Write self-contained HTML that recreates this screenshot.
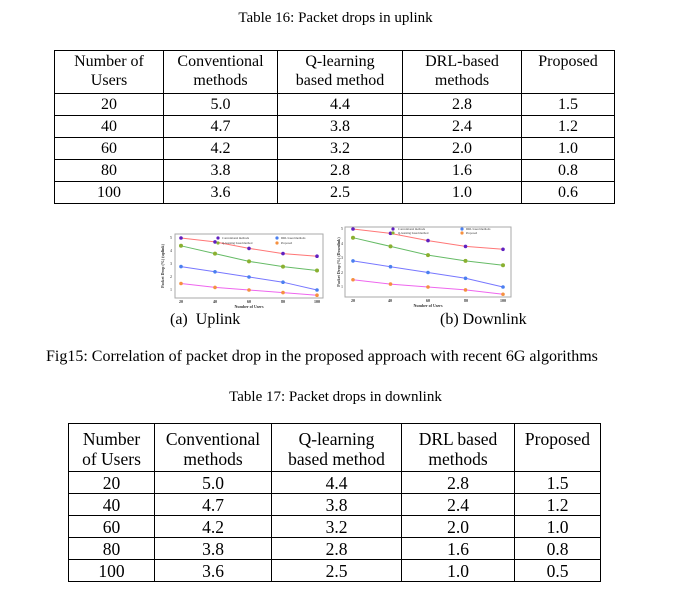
<!DOCTYPE html>
<html><head><meta charset="utf-8"><style>
body{margin:0;width:691px;height:595px;background:#fff;position:relative;overflow:hidden;font-family:"Liberation Serif",serif;color:#000}
.t{position:absolute;white-space:nowrap}
table{position:absolute;border-collapse:collapse;table-layout:fixed}
td{border:1px solid #000;text-align:center;padding:0;line-height:19px;vertical-align:middle}
#t1 td{font-size:16px;height:21px}
#t2 td{font-size:17.5px;height:21px;line-height:20px}
</style></head><body>
<div class="t" style="left:0;width:671px;text-align:center;top:10px;font-size:15px">Table 16: Packet drops in uplink</div>
<table id="t1" style="left:54px;top:50px;width:560px">
<colgroup><col style="width:109px"><col style="width:114px"><col style="width:125px"><col style="width:119px"><col style="width:93px"></colgroup>
<tr><td style="height:41px;vertical-align:top;padding-top:1px">Number of<br>Users</td><td style="vertical-align:top;padding-top:1px">Conventional<br>methods</td><td style="vertical-align:top;padding-top:1px">Q-learning<br>based method</td><td style="vertical-align:top;padding-top:1px">DRL-based<br>methods</td><td style="vertical-align:top;padding-top:1px">Proposed</td></tr>
<tr><td>20</td><td>5.0</td><td>4.4</td><td>2.8</td><td>1.5</td></tr>
<tr><td>40</td><td>4.7</td><td>3.8</td><td>2.4</td><td>1.2</td></tr>
<tr><td>60</td><td>4.2</td><td>3.2</td><td>2.0</td><td>1.0</td></tr>
<tr><td>80</td><td>3.8</td><td>2.8</td><td>1.6</td><td>0.8</td></tr>
<tr><td>100</td><td>3.6</td><td>2.5</td><td>1.0</td><td>0.6</td></tr>
</table>

<svg style="position:absolute;left:0;top:0" width="691" height="595" font-family="Liberation Serif, serif">
<g fill="none" stroke-width="1">
<rect x="175" y="234" width="148" height="64" stroke="#aaa"/>
<rect x="345" y="227" width="166" height="70" stroke="#aaa"/>
</g>
<g font-size="4" fill="#333" text-anchor="end">
<text x="172" y="239">5</text><text x="172" y="252">4</text><text x="172" y="265">3</text><text x="172" y="278">2</text><text x="172" y="291">1</text>
<text x="343" y="230">5</text><text x="343" y="245">4</text><text x="343" y="259">3</text><text x="343" y="274">2</text><text x="343" y="288">1</text>
</g>
<g font-size="4" fill="#333" text-anchor="middle" font-weight="bold">
<text x="181" y="303">20</text><text x="215" y="303">40</text><text x="249" y="303">60</text><text x="283" y="303">80</text><text x="317" y="303">100</text>
<text x="249" y="308">Number of Users</text>
<text x="353" y="302">20</text><text x="390" y="302">40</text><text x="428" y="302">60</text><text x="466" y="302">80</text><text x="503" y="302">100</text>
<text x="428" y="307">Number of Users</text>
<text transform="translate(164,266) rotate(-90)">Packet Drop (%) (uplink)</text>
<text transform="translate(340,262) rotate(-90)">Packet Drop (%) (Downlink)</text>
</g>
<g fill="none" stroke-width="1">
<polyline stroke="#f77" points="181,238 215,241.9 249,248.4 283,253.6 317,256.2"/>
<polyline stroke="#6b6" points="181,245.8 215,253.6 249,261.4 283,266.6 317,270.5"/>
<polyline stroke="#77f" points="181,266.6 215,271.8 249,277 283,282.2 317,290"/>
<polyline stroke="#e6e" points="181,283.5 215,287.4 249,290 283,292.6 317,295.2"/>
<polyline stroke="#f77" points="353,229 390.5,233.35 428,240.6 465.5,246.4 503,249.3"/>
<polyline stroke="#6b6" points="353,237.7 390.5,246.4 428,255.1 465.5,260.9 503,265.25"/>
<polyline stroke="#77f" points="353,260.9 390.5,266.7 428,272.5 465.5,278.3 503,287"/>
<polyline stroke="#e6e" points="353,279.75 390.5,284.1 428,287 465.5,289.9 503,294.25"/>
</g>
<g>
<g fill="#6020c0"><circle cx="181" cy="238" r="1.8"/><circle cx="215" cy="241.9" r="1.8"/><circle cx="249" cy="248.4" r="1.8"/><circle cx="283" cy="253.6" r="1.8"/><circle cx="317" cy="256.2" r="1.8"/>
<circle cx="353" cy="229" r="1.8"/><circle cx="390.5" cy="233.35" r="1.8"/><circle cx="428" cy="240.6" r="1.8"/><circle cx="465.5" cy="246.4" r="1.8"/><circle cx="503" cy="249.3" r="1.8"/></g>
<g fill="#8ab030"><circle cx="181" cy="245.8" r="2"/><circle cx="215" cy="253.6" r="2"/><circle cx="249" cy="261.4" r="2"/><circle cx="283" cy="266.6" r="2"/><circle cx="317" cy="270.5" r="2"/>
<circle cx="353" cy="237.7" r="2"/><circle cx="390.5" cy="246.4" r="2"/><circle cx="428" cy="255.1" r="2"/><circle cx="465.5" cy="260.9" r="2"/><circle cx="503" cy="265.25" r="2"/></g>
<g fill="#4a7ff0"><circle cx="181" cy="266.6" r="1.8"/><circle cx="215" cy="271.8" r="1.8"/><circle cx="249" cy="277" r="1.8"/><circle cx="283" cy="282.2" r="1.8"/><circle cx="317" cy="290" r="1.8"/>
<circle cx="353" cy="260.9" r="1.8"/><circle cx="390.5" cy="266.7" r="1.8"/><circle cx="428" cy="272.5" r="1.8"/><circle cx="465.5" cy="278.3" r="1.8"/><circle cx="503" cy="287" r="1.8"/></g>
<g fill="#f59040"><circle cx="181" cy="283.5" r="1.8"/><circle cx="215" cy="287.4" r="1.8"/><circle cx="249" cy="290" r="1.8"/><circle cx="283" cy="292.6" r="1.8"/><circle cx="317" cy="295.2" r="1.8"/>
<circle cx="353" cy="279.75" r="1.8"/><circle cx="390.5" cy="284.1" r="1.8"/><circle cx="428" cy="287" r="1.8"/><circle cx="465.5" cy="289.9" r="1.8"/><circle cx="503" cy="294.25" r="1.8"/></g>
</g>
<g font-size="3" fill="#333">
<circle cx="218" cy="238" r="1.6" fill="#6020c0"/><text x="222" y="239">Conventional methods</text>
<circle cx="218" cy="243" r="1.6" fill="#8ab030"/><text x="222" y="244">Q-learning based method</text>
<circle cx="277" cy="238" r="1.6" fill="#4a7ff0"/><text x="281" y="239">DRL based methods</text>
<circle cx="277" cy="243" r="1.6" fill="#f59040"/><text x="281" y="244">Proposed</text>
<circle cx="393" cy="229" r="1.6" fill="#6020c0"/><text x="398" y="230">Conventional methods</text>
<circle cx="393" cy="233" r="1.6" fill="#8ab030"/><text x="398" y="234">Q-learning based method</text>
<circle cx="462" cy="229" r="1.6" fill="#4a7ff0"/><text x="466" y="230">DRL based methods</text>
<circle cx="462" cy="233" r="1.6" fill="#f59040"/><text x="466" y="234">Proposed</text>
</g>
</svg>

<div class="t" style="left:170px;top:311px;font-size:16px">(a)&nbsp;&nbsp;Uplink</div>
<div class="t" style="left:440px;top:311px;font-size:16px">(b) Downlink</div>
<div class="t" style="left:46px;top:348px;font-size:16px">Fig15: Correlation of packet drop in the proposed approach with recent 6G algorithms</div>
<div class="t" style="left:0;width:671px;text-align:center;top:389px;font-size:15px">Table 17: Packet drops in downlink</div>

<table id="t2" style="left:68px;top:423px;width:532px">
<colgroup><col style="width:86px"><col style="width:117px"><col style="width:130px"><col style="width:113px"><col style="width:86px"></colgroup>
<tr><td style="height:48px;vertical-align:top;padding-top:5px;box-sizing:border-box">Number<br>of Users</td><td style="vertical-align:top;padding-top:5px">Conventional<br>methods</td><td style="vertical-align:top;padding-top:5px">Q-learning<br>based method</td><td style="vertical-align:top;padding-top:5px">DRL based<br>methods</td><td style="vertical-align:top;padding-top:5px">Proposed</td></tr>
<tr><td>20</td><td>5.0</td><td>4.4</td><td>2.8</td><td>1.5</td></tr>
<tr><td>40</td><td>4.7</td><td>3.8</td><td>2.4</td><td>1.2</td></tr>
<tr><td>60</td><td>4.2</td><td>3.2</td><td>2.0</td><td>1.0</td></tr>
<tr><td>80</td><td>3.8</td><td>2.8</td><td>1.6</td><td>0.8</td></tr>
<tr><td>100</td><td>3.6</td><td>2.5</td><td>1.0</td><td>0.5</td></tr>
</table>
</body></html>
